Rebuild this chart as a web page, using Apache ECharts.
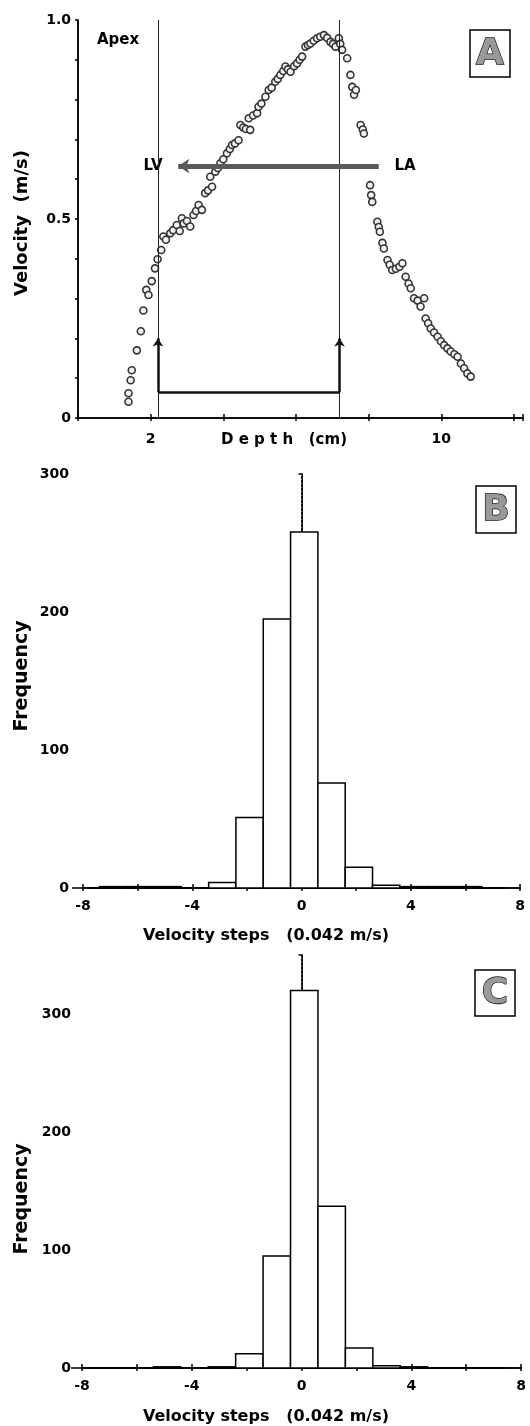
<!DOCTYPE html>
<html>
<head>
<meta charset="utf-8">
<script src="https://cdn.jsdelivr.net/npm/echarts@6/dist/echarts.min.js"></script>
<style>
  html, body { margin: 0; padding: 0; background: #fff; }
  #chart { width: 530px; height: 1426px; }
</style>
</head>
<body>
<div id="chart"></div>
<script>
// ---- panel A: velocity along depth ----
var depthCm = [1.39, 1.39, 1.45, 1.48, 1.62, 1.73, 1.80, 1.88, 1.94, 2.03, 2.12, 2.19, 2.29, 2.35, 2.42,
  2.54, 2.62, 2.72, 2.80, 2.86, 2.91, 3.00, 3.09, 3.18, 3.25, 3.32, 3.41, 3.50, 3.58, 3.64, 3.69,
  3.78, 3.85, 3.92, 4.00, 4.10, 4.18, 4.24, 4.32, 4.42, 4.47, 4.55, 4.62, 4.70, 4.74, 4.82, 4.93,
  4.97, 5.05, 5.16, 5.25, 5.33, 5.43, 5.50, 5.57, 5.65, 5.71, 5.78, 5.85, 5.95, 6.03, 6.10, 6.17,
  6.26, 6.33, 6.40, 6.49, 6.58, 6.67, 6.77, 6.86, 6.95, 7.02, 7.09, 7.18, 7.22, 7.27, 7.41, 7.50,
  7.55, 7.60, 7.65, 7.78, 7.84, 7.87, 8.04, 8.07, 8.10, 8.24, 8.28, 8.31, 8.38, 8.42, 8.52, 8.58,
  8.65, 8.75, 8.85, 8.93, 9.02, 9.10, 9.16, 9.25, 9.35, 9.43, 9.53, 9.57, 9.64, 9.71, 9.80, 9.90,
  9.99, 10.08, 10.17, 10.26, 10.36, 10.45, 10.54, 10.63, 10.72, 10.81];
var velocityMs = [0.041, 0.062, 0.095, 0.120, 0.170, 0.218, 0.270, 0.322, 0.309, 0.344, 0.376, 0.399, 0.422, 0.456, 0.448,
  0.464, 0.472, 0.485, 0.470, 0.502, 0.489, 0.495, 0.481, 0.510, 0.520, 0.535, 0.523, 0.565, 0.572, 0.606, 0.581,
  0.619, 0.628, 0.640, 0.650, 0.665, 0.676, 0.686, 0.690, 0.698, 0.736, 0.730, 0.726, 0.753, 0.724, 0.760, 0.766,
  0.782, 0.790, 0.807, 0.824, 0.830, 0.845, 0.852, 0.862, 0.872, 0.883, 0.876, 0.870, 0.884, 0.891, 0.900, 0.908,
  0.933, 0.937, 0.941, 0.948, 0.954, 0.958, 0.962, 0.955, 0.945, 0.940, 0.933, 0.954, 0.940, 0.925, 0.904, 0.862,
  0.832, 0.812, 0.824, 0.736, 0.725, 0.715, 0.585, 0.560, 0.543, 0.493, 0.480, 0.468, 0.440, 0.426, 0.397, 0.385,
  0.372, 0.375, 0.380, 0.389, 0.355, 0.338, 0.326, 0.301, 0.295, 0.280, 0.301, 0.250, 0.238, 0.225, 0.215, 0.204,
  0.193, 0.183, 0.175, 0.167, 0.160, 0.154, 0.137, 0.125, 0.112, 0.104];
var valveLinesCm = [2.2, 7.2];
var lvLaArrow = { fromCm: 8.28, toCm: 2.76, velocity: 0.633 };
var bracket = { leftCm: 2.2, rightCm: 7.2, bottom: 0.065, top: 0.2 };
var depthLabels = [2, 10];
var velocityLabels = [0, 0.5, 1.0];

// ---- panels B and C: histograms of velocity steps ----
var stepBins = [-8, -7, -6, -5, -4, -3, -2, -1, 0, 1, 2, 3, 4, 5, 6, 7];
var freqB = [0, 1, 1, 1, 0, 4, 51, 195, 258, 76, 15, 2, 1, 1, 1, 0];
var freqC = [0, 0, 0, 1, 0, 1, 12, 95, 320, 137, 17, 2, 1, 0, 0, 0];
var stepLabels = [-8, -4, 0, 4, 8];
var freqLabelsB = [0, 100, 200, 300];
var freqLabelsC = [0, 100, 200, 300];

var FONT = "DejaVu Sans";
var chart = echarts.init(document.getElementById("chart"));

function pick(list, fmt) {
  // only show a label when the tick value is in the list
  return function (v) {
    for (var i = 0; i < list.length; i++) {
      if (Math.abs(list[i] - v) < 1e-6) return fmt ? fmt(list[i]) : String(list[i]);
    }
    return "";
  };
}

var lineBlack = { color: "#000", width: 1.5 };
var tickLabel = { color: "#000", fontFamily: FONT, fontWeight: "bold", fontSize: 14 };

// bottom + top, left + right axes for one grid
function axesFor(g, xr, yr) {
  var xs = [
    {
      type: "value", gridIndex: g, position: "bottom", min: xr.min, max: xr.max, interval: xr.interval,
      axisLine: { lineStyle: lineBlack }, splitLine: { show: false },
      axisTick: { inside: xr.tickInside, length: 4, lineStyle: lineBlack },
      axisLabel: Object.assign({ formatter: xr.fmt, margin: xr.margin, showMaxLabel: true, showMinLabel: true }, tickLabel)
    },
    {
      type: "value", gridIndex: g, position: "top", min: xr.min, max: xr.max, interval: xr.interval,
      axisLine: { lineStyle: lineBlack }, splitLine: { show: false },
      axisTick: { inside: true, length: 3, lineStyle: lineBlack }, axisLabel: { show: false }
    }
  ];
  var ys = [
    {
      type: "value", gridIndex: g, position: "left", min: yr.min, max: yr.max, interval: yr.interval,
      axisLine: { show: true, lineStyle: lineBlack }, splitLine: { show: false },
      axisTick: { show: true, length: 3, lineStyle: lineBlack },
      axisLabel: Object.assign({ formatter: yr.fmt, margin: yr.margin }, tickLabel)
    },
    {
      type: "value", gridIndex: g, position: "right", min: yr.min, max: yr.max, interval: yr.interval,
      axisLine: { show: true, lineStyle: lineBlack }, splitLine: { show: false },
      axisTick: { show: true, inside: true, length: 3, lineStyle: lineBlack }, axisLabel: { show: false }
    }
  ];
  return { x: xs, y: ys };
}

var axA = axesFor(0,
  { min: 0, max: 12.25, interval: 2, tickInside: true, margin: 14, fmt: pick(depthLabels) },
  { min: 0, max: 1, interval: 0.1, margin: 7, fmt: pick(velocityLabels, function (v) { return v === 0 ? "0" : v.toFixed(1); }) });
var axB = axesFor(1,
  { min: -8, max: 8, interval: 2, tickInside: true, margin: 11, fmt: pick(stepLabels) },
  { min: 0, max: 300, interval: 50, margin: 14, fmt: pick(freqLabelsB) });
var axC = axesFor(2,
  { min: -8, max: 8, interval: 2, tickInside: true, margin: 11, fmt: pick(stepLabels) },
  { min: 0, max: 350, interval: 50, margin: 11, fmt: pick(freqLabelsC) });

function histItem(params, api) {
  var k = api.value(0), n = api.value(1);
  var p0 = api.coord([k - 0.4, n]);
  var p1 = api.coord([k + 0.6, 0]);
  return {
    type: "rect",
    shape: { x: p0[0], y: p0[1], width: p1[0] - p0[0], height: p1[1] - p0[1] },
    style: { fill: "#fff", stroke: "#000", lineWidth: 1.5 }
  };
}

function histData(freq) {
  return stepBins.map(function (s, i) { return [s, freq[i]]; });
}

// faint dotted guide at step 0, from the top of the centre bar up to the frame
function zeroGuide(axisIdx, freq, ymax) {
  var top = freq[stepBins.indexOf(0)];
  return {
    type: "line", xAxisIndex: axisIdx, yAxisIndex: axisIdx, silent: true,
    symbol: "none", z: 1,
    lineStyle: { color: "#8a8a8a", width: 1, type: [1, 3] },
    data: [[0, top], [0, ymax]]
  };
}

function seg(x0, y0, x1, y1, style, arrow, arrowSize) {
  // one markLine segment in data coordinates
  return [
    { coord: [x0, y0], symbol: "none" },
    { coord: [x1, y1], symbol: arrow ? "arrow" : "none", symbolSize: arrowSize || 8, lineStyle: style }
  ];
}

function text(x, y, str, size, rotate) {
  return {
    type: "text", x: x, y: y, rotation: rotate ? Math.PI / 2 : 0,
    style: { text: str, fill: "#000", font: "bold " + size + "px '" + FONT + "'", align: "center", verticalAlign: "middle" }
  };
}

function boxLetter(x, y, w, h, letter) {
  return {
    type: "group",
    children: [
      { type: "rect", shape: { x: x, y: y, width: w, height: h }, style: { fill: "#fff", stroke: "#000", lineWidth: 1.5 } },
      {
        type: "text", x: x + w / 2, y: y + h / 2 + 1,
        style: { text: letter, font: "bold 36px '" + FONT + "'", fill: "#999", stroke: "#111", lineWidth: 1.3, align: "center", verticalAlign: "middle" }
      }
    ]
  };
}

var thin = { color: "#222", width: 1, type: "solid" };
var arrowBar = { color: "#5a5a5a", width: 5, type: "solid" };
var bracketLine = { color: "#111", width: 2.5, type: "solid" };

var option = {
  animation: false,
  backgroundColor: "#fff",
  grid: [
    { left: 78, top: 20, width: 445, height: 398 },
    { left: 83, top: 474, width: 437, height: 414 },
    { left: 82, top: 955, width: 439, height: 413 }
  ],
  xAxis: axA.x.concat(axB.x, axC.x),
  yAxis: axA.y.concat(axB.y, axC.y),
  series: [
    {
      name: "velocity",
      type: "scatter",
      xAxisIndex: 0, yAxisIndex: 0,
      symbol: "circle", symbolSize: 7,
      itemStyle: { color: "#f2f2f2", borderColor: "#333", borderWidth: 1.6, opacity: 1 },
      data: depthCm.map(function (d, i) { return [d, velocityMs[i]]; }),
      markLine: {
        silent: true, label: { show: false }, symbol: "none",
        lineStyle: { type: "solid" },
        data: [
          // valve planes
          seg(valveLinesCm[0], 0, valveLinesCm[0], 1, thin),
          seg(valveLinesCm[1], 0, valveLinesCm[1], 1, thin),
          // LA -> LV arrow
          seg(lvLaArrow.fromCm, lvLaArrow.velocity, lvLaArrow.toCm, lvLaArrow.velocity, arrowBar, true, 11),
          // bracket
          seg(bracket.leftCm, bracket.bottom, bracket.leftCm, bracket.top, bracketLine, true, 8),
          seg(bracket.rightCm, bracket.bottom, bracket.rightCm, bracket.top, bracketLine, true, 8),
          seg(bracket.leftCm, bracket.bottom, bracket.rightCm, bracket.bottom, bracketLine)
        ]
      }
    },
    zeroGuide(2, freqB, 300),
    {
      name: "B",
      type: "custom",
      xAxisIndex: 2, yAxisIndex: 2,
      renderItem: histItem,
      encode: { x: 0, y: 1 },
      data: histData(freqB)
    },
    zeroGuide(4, freqC, 350),
    {
      name: "C",
      type: "custom",
      xAxisIndex: 4, yAxisIndex: 4,
      renderItem: histItem,
      encode: { x: 0, y: 1 },
      data: histData(freqC)
    }
  ],
  graphic: [
    text(118, 40, "Apex", 15),
    text(153, 166, "LV", 15),
    text(405, 166, "LA", 15),
    text(284, 440, "D e p t h   (cm)", 15),
    text(22, 223, "Velocity  (m/s)", 18, true),
    boxLetter(470, 30, 40, 47, "A"),

    text(22, 676, "Frequency", 19, true),
    text(266, 936, "Velocity steps   (0.042 m/s)", 16),
    boxLetter(476, 486, 40, 47, "B"),

    text(22, 1199, "Frequency", 19, true),
    text(266, 1417, "Velocity steps   (0.042 m/s)", 16),
    boxLetter(475, 970, 40, 46, "C")
  ]
};

chart.setOption(option);
</script>
</body>
</html>
